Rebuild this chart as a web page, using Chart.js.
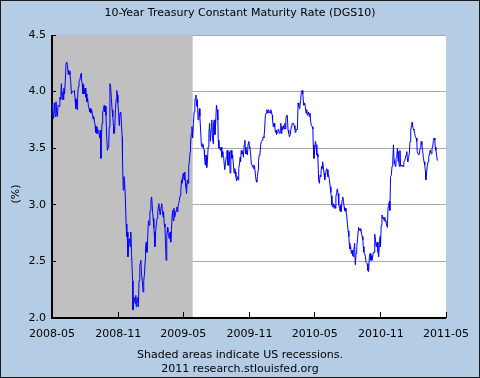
<!DOCTYPE html>
<html><head><meta charset="utf-8">
<script src="https://cdn.jsdelivr.net/npm/chart.js@4.4.1/dist/chart.umd.min.js"></script>
<style>html,body{margin:0;padding:0;background:#b4cde4;}canvas{display:block;}</style>
</head><body>
<canvas id="c" width="480" height="378"></canvas>
<script>
const titleText = '10-Year Treasury Constant Maturity Rate (DGS10)';
const footerLines = ['Shaded areas indicate US recessions.', '2011 research.stlouisfed.org'];
const yAxisLabel = '(%)';
// x values are days counted from 2008-05-01
const tickDays = [0, 184, 365, 549, 730, 914, 1095];
const tickLabels = ['2008-05', '2008-11', '2009-05', '2009-11', '2010-05', '2010-11', '2011-05'];
const recessionDays = [0, 391];
const days = [
0,2,4,6,7,9,11,13,15,17,
20,22,24,26,28,30,32,33,35,37,
39,41,43,45,46,48,50,52,54,57,
59,62,64,66,68,70,71,73,75,77,
79,81,82,84,86,88,90,92,94,95,
97,99,101,103,105,107,108,110,112,114,
116,118,120,121,123,125,127,129,131,133,
134,136,137,139,141,143,145,146,148,150,
152,154,156,158,159,161,163,165,167,169,
171,172,174,176,178,180,182,183,185,187,
189,191,193,195,196,198,200,202,204,206,
208,209,211,213,215,217,219,221,224,225,
227,229,231,233,234,236,238,240,242,244,
246,247,249,251,253,255,257,259,260,262,
264,266,268,270,272,273,275,277,279,281,
283,284,286,288,290,292,294,296,297,299,
301,303,305,307,309,310,312,314,317,319,
321,322,324,326,328,330,332,334,335,337,
339,341,343,345,347,348,350,352,354,356,
358,360,361,363,365,367,369,371,372,374,
376,378,380,382,384,385,387,389,391,393,
395,397,398,400,402,404,406,408,410,411,
413,415,417,419,421,423,424,426,428,430,
432,434,436,438,440,442,444,446,448,449,
451,453,455,457,459,461,462,464,466,468,
470,472,473,475,477,480,482,484,486,487,
489,491,493,495,497,498,500,502,504,506,
508,510,511,513,515,517,519,521,523,524,
526,528,530,532,534,536,537,539,541,543,
545,547,549,550,552,554,556,558,560,561,
563,565,567,569,571,573,574,576,578,580,
582,584,586,587,589,591,593,595,597,599,
600,602,604,606,608,610,612,613,615,617,
619,621,623,624,626,628,630,632,634,636,
637,639,641,643,645,647,649,650,652,654,
656,658,660,662,663,665,667,669,671,673,
675,676,678,680,682,684,686,688,689,691,
693,695,697,699,700,702,704,706,708,710,
712,713,715,717,719,721,723,725,726,728,
730,732,734,736,738,739,741,743,745,747,
749,751,752,754,756,758,760,762,763,765,
767,769,771,773,775,776,778,780,782,784,
786,788,789,791,793,795,797,799,801,802,
804,806,808,810,812,813,815,817,819,821,
823,825,826,828,830,832,834,836,838,839,
841,843,845,847,849,851,852,854,856,858,
860,862,864,865,867,869,871,873,875,876,
878,880,882,884,886,888,889,891,893,895,
897,899,901,902,904,906,908,910,912,913,
915,917,919,921,923,925,926,928,930,932,
934,936,938,939,941,943,945,947,949,951,
952,954,956,958,960,962,963,965,967,969,
971,973,975,976,978,980,982,984,986,988,
989,991,993,995,997,999,1001,1002,1004,1006,
1008,1010,1012,1014,1015,1017,1019,1021,1023,1025,
1026,1028,1030,1032,1034,1036,1038,1039,1041,1043,
1045,1047,1049,1051,1052,1054,1056,1058,1060,1062,
1064,1065,1067,1069,1071
];
const rates = [
3.90,3.81,3.76,3.84,3.90,3.78,3.91,3.82,3.78,3.88,
3.87,3.95,3.93,4.07,3.93,4.00,3.93,4.03,3.98,4.10,
4.25,4.26,4.23,4.15,4.19,4.18,4.15,4.09,3.98,4.00,
4.00,4.01,3.94,3.85,3.93,3.84,3.94,4.04,4.09,4.10,
4.13,4.16,4.10,4.07,3.98,4.06,3.98,4.03,3.95,3.98,
3.91,3.94,3.88,3.85,3.82,3.85,3.81,3.84,3.81,3.76,
3.78,3.73,3.70,3.64,3.69,3.63,3.67,3.64,3.62,3.59,
3.66,3.41,3.57,3.72,3.82,3.84,3.88,3.82,3.87,3.79,
3.60,3.48,3.51,3.57,3.69,4.07,4.04,3.94,3.84,3.78,
3.69,3.63,3.64,3.81,3.93,4.01,3.97,3.90,3.82,3.70,
3.81,3.82,3.72,3.60,3.39,3.13,3.25,3.19,3.05,2.83,
2.72,2.76,2.54,2.66,2.70,2.63,2.76,2.57,2.33,2.07,
2.15,2.18,2.13,2.20,2.10,2.15,2.18,2.10,2.33,2.46,
2.49,2.51,2.38,2.33,2.23,2.33,2.39,2.51,2.63,2.67,
2.58,2.72,2.86,2.82,2.92,2.95,3.04,3.07,2.97,2.88,
2.80,2.76,2.63,2.77,2.83,2.88,2.94,2.99,3.01,2.94,
2.91,2.98,3.01,2.94,2.89,2.94,2.83,2.80,2.51,2.73,
2.80,2.76,2.73,2.70,2.76,2.67,2.77,2.92,2.95,2.86,
2.97,2.89,2.92,2.95,2.98,2.94,2.98,3.01,3.04,3.08,
3.13,3.22,3.19,3.25,3.28,3.22,3.29,3.19,3.16,3.10,
3.22,3.19,3.34,3.39,3.47,3.53,3.63,3.69,3.59,3.72,
3.82,3.90,3.94,3.97,3.87,3.93,3.75,3.81,3.85,3.78,
3.66,3.53,3.51,3.54,3.51,3.48,3.42,3.35,3.44,3.33,
3.39,3.51,3.63,3.72,3.56,3.66,3.75,3.59,3.54,3.72,
3.75,3.62,3.73,3.88,3.84,3.75,3.57,3.50,3.51,3.48,
3.51,3.42,3.47,3.44,3.42,3.31,3.36,3.42,3.47,3.48,
3.35,3.35,3.47,3.28,3.48,3.48,3.41,3.44,3.36,3.28,
3.32,3.29,3.25,3.21,3.25,3.22,3.32,3.36,3.42,3.38,
3.48,3.45,3.47,3.42,3.53,3.57,3.51,3.45,3.48,3.44,
3.54,3.56,3.51,3.50,3.45,3.36,3.35,3.34,3.32,3.35,
3.34,3.28,3.22,3.20,3.25,3.31,3.39,3.44,3.45,3.53,
3.56,3.57,3.59,3.60,3.59,3.67,3.79,3.81,3.84,3.82,
3.81,3.84,3.82,3.81,3.84,3.82,3.79,3.75,3.69,3.72,
3.69,3.64,3.66,3.62,3.64,3.66,3.67,3.63,3.64,3.72,
3.63,3.69,3.66,3.70,3.67,3.72,3.67,3.76,3.79,3.79,
3.66,3.63,3.60,3.62,3.62,3.69,3.72,3.72,3.72,3.70,
3.67,3.64,3.67,3.66,3.67,3.90,3.87,3.85,3.87,3.92,
4.00,4.01,3.98,3.90,3.88,3.90,3.87,3.81,3.84,3.79,
3.81,3.82,3.78,3.81,3.73,3.70,3.69,3.67,3.53,3.41,
3.48,3.56,3.53,3.44,3.45,3.42,3.22,3.19,3.26,3.25,
3.34,3.32,3.38,3.34,3.28,3.22,3.26,3.31,3.32,3.31,
3.25,3.26,3.22,3.16,3.11,3.08,3.00,2.98,3.01,2.97,
3.00,2.97,3.07,3.11,3.14,3.10,3.00,2.97,2.94,3.00,
2.94,3.04,3.07,3.03,2.98,2.95,2.97,2.94,2.91,2.83,
2.77,2.72,2.66,2.61,2.63,2.57,2.60,2.55,2.54,2.60,
2.66,2.47,2.57,2.63,2.69,2.77,2.80,2.79,2.77,2.79,
2.75,2.72,2.69,2.63,2.58,2.57,2.54,2.49,2.49,2.48,
2.42,2.41,2.54,2.57,2.51,2.55,2.51,2.54,2.58,2.58,
2.74,2.69,2.63,2.66,2.67,2.58,2.54,2.66,2.72,2.63,
2.82,2.91,2.88,2.89,2.86,2.89,2.86,2.85,2.82,2.80,
2.98,3.01,3.03,2.95,3.25,3.26,3.34,3.38,3.53,3.36,
3.39,3.34,3.41,3.42,3.50,3.38,3.47,3.34,3.48,3.34,
3.35,3.34,3.35,3.34,3.38,3.39,3.41,3.44,3.47,3.39,
3.38,3.42,3.45,3.56,3.66,3.70,3.73,3.70,3.67,3.66,
3.63,3.60,3.59,3.56,3.47,3.47,3.44,3.45,3.50,3.53,
3.56,3.53,3.48,3.42,3.38,3.35,3.29,3.22,3.28,3.34,
3.38,3.42,3.45,3.48,3.47,3.45,3.50,3.51,3.57,3.59,
3.57,3.51,3.48,3.44,3.39
];

const BG = '#b4cde4';
const FONT = 'DejaVu Sans';
const align = p => Math.round(p - 0.5) + 0.5;

const frame = {
  id: 'frame',
  afterLayout(chart) {
    // center title and footer on the whole canvas, as in the original
    chart.boxes.forEach(b => {
      if (!b.axis && (b.position === 'top' || b.position === 'bottom')) {
        b.left = 0; b.right = chart.width; b.width = chart.width;
      }
    });
  },
  beforeDraw(chart) {
    const {ctx, chartArea: a} = chart;
    ctx.save();
    ctx.fillStyle = BG;
    ctx.fillRect(0, 0, chart.width, chart.height);
    ctx.fillStyle = '#ffffff';
    ctx.fillRect(a.left, a.top, a.right - a.left, a.bottom - a.top);
    ctx.restore();
  },
  beforeDatasetsDraw(chart) {
    const {ctx, chartArea: a, scales: {x, y}} = chart;
    ctx.save();
    const x0 = x.getPixelForValue(recessionDays[0]);
    const x1 = x.getPixelForValue(recessionDays[1]);
    ctx.fillStyle = '#c0c0c0';
    ctx.fillRect(x0, a.top, x1 - x0, a.bottom - a.top);
    ctx.strokeStyle = '#000';
    ctx.lineWidth = 1;
    ctx.beginPath();
    y.ticks.forEach(t => {
      const py = align(y.getPixelForValue(t.value));
      ctx.moveTo(a.left, py); ctx.lineTo(a.left + 4, py);
    });
    tickDays.forEach(d => {
      const px = align(x.getPixelForValue(d));
      ctx.moveTo(px, a.bottom); ctx.lineTo(px, a.bottom - 6);
    });
    ctx.stroke();
    ctx.lineWidth = 2;
    ctx.beginPath();
    ctx.moveTo(a.left, a.top);
    ctx.lineTo(a.left, a.bottom);
    ctx.lineTo(a.right, a.bottom);
    ctx.stroke();
    ctx.fillStyle = '#000';
    ctx.font = '11px "' + FONT + '"';
    ctx.textAlign = 'center';
    ctx.textBaseline = 'middle';
    ctx.translate(16, 194);
    ctx.rotate(-Math.PI / 2);
    ctx.fillText(yAxisLabel, 0, 0);
    ctx.restore();
  },
  afterDraw(chart) {
    const ctx = chart.ctx;
    ctx.save();
    ctx.strokeStyle = '#1a1a1a';
    ctx.lineWidth = 1;
    ctx.strokeRect(0.5, 0.5, chart.width - 1, chart.height - 1);
    ctx.restore();
  }
};

new Chart(document.getElementById('c'), {
  type: 'line',
  data: {
    datasets: [{
      data: days.map((d, i) => ({x: d, y: rates[i]})),
      borderColor: '#0000ff',
      borderWidth: 1,
      pointRadius: 0,
      tension: 0,
      fill: false
    }]
  },
  options: {
    responsive: false,
    animation: false,
    devicePixelRatio: 1,
    layout: {padding: {left: 0, right: 34, top: 0, bottom: 0}},
    plugins: {
      legend: {display: false},
      tooltip: {enabled: false},
      title: {
        display: true, text: titleText, color: '#000',
        font: {family: FONT, size: 11, weight: 'normal', lineHeight: 1.2},
        padding: {top: 7, bottom: 14.8}
      },
      subtitle: {
        display: true, position: 'bottom', text: footerLines, color: '#000',
        font: {family: FONT, size: 11, weight: 'normal', lineHeight: '14px'},
        padding: {top: 0, bottom: 2}
      }
    },
    scales: {
      x: {
        type: 'linear', min: 0, max: 1095,
        afterBuildTicks: s => { s.ticks = tickDays.map(v => ({value: v})); },
        afterFit: s => { s.height = 30; },
        grid: {display: false, drawTicks: false, tickLength: 0},
        border: {display: false},
        ticks: {
          autoSkip: false, maxRotation: 0, minRotation: 0, padding: 10,
          color: '#000', font: {family: FONT, size: 11},
          callback: (v) => { const i = tickDays.indexOf(v); return i >= 0 ? tickLabels[i] : ''; }
        }
      },
      y: {
        min: 2.0, max: 4.5,
        afterFit: s => { s.width = 52; },
        grid: {color: '#aaaaaa', lineWidth: 1, drawTicks: false, tickLength: 0},
        border: {display: false},
        ticks: {
          stepSize: 0.5, padding: 6, color: '#000',
          font: {family: FONT, size: 11},
          callback: v => Number(v).toFixed(1)
        }
      }
    }
  },
  plugins: [frame]
});
</script>
</body></html>
